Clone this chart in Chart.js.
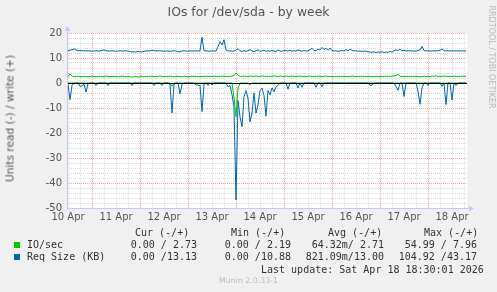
<!DOCTYPE html>
<html>
<head>
<meta charset="utf-8">
<script src="https://cdn.jsdelivr.net/npm/chart.js@4.4.1/dist/chart.umd.min.js"></script>
<style>
  html, body { margin: 0; padding: 0; background: #F0F0F0; }
  #wrap { position: relative; width: 497px; height: 292px; overflow: hidden; }
  canvas { position: absolute; left: 0; top: 0; }
  .t { position: absolute; white-space: pre; font-family: 'DejaVu Sans'; }
  .m { position: absolute; white-space: pre; font-family: 'DejaVu Sans Mono'; font-size: 10px; line-height: 12px; color: #333; }
  .r { text-align: right; width: 100px; }
  .sq { position: absolute; width: 6px; height: 6px; }
</style>
</head>
<body>
<div id="wrap">
  <canvas id="canvas" width="497" height="292"></canvas>

  <div class="t" style="left:0;top:4px;width:497px;text-align:center;font-size:12.4px;color:#555;">IOs for /dev/sda - by week</div>
  <div class="t" style="left:-90px;top:112px;width:200px;text-align:center;font-size:10.6px;line-height:13px;color:#555;transform:rotate(-90deg);">Units read (-) / write (+)</div>
  <div class="t" style="left:431px;top:52px;width:120px;text-align:center;font-size:8px;line-height:10px;color:#bbb;transform:rotate(90deg);">RRDTOOL / TOBI OETIKER</div>

  <div class="m" style="left:135px;top:227px;">Cur (-/+)</div>
  <div class="m" style="left:231px;top:227px;">Min (-/+)</div>
  <div class="m" style="left:328px;top:227px;">Avg (-/+)</div>
  <div class="m" style="left:424px;top:227px;">Max (-/+)</div>

  <div class="sq" style="left:14px;top:242px;background:#00CC00;"></div>
  <div class="m" style="left:27px;top:239px;">IO/sec</div>
  <div class="m r" style="left:97px;top:239px;">0.00 / 2.73</div>
  <div class="m r" style="left:191px;top:239px;">0.00 / 2.19</div>
  <div class="m r" style="left:284px;top:239px;">64.32m/ 2.71</div>
  <div class="m r" style="left:377px;top:239px;">54.99 / 7.96</div>

  <div class="sq" style="left:14px;top:254px;background:#0066B3;"></div>
  <div class="m" style="left:27px;top:251px;">Req Size (KB)</div>
  <div class="m r" style="left:97px;top:251px;">0.00 /13.13</div>
  <div class="m r" style="left:191px;top:251px;">0.00 /10.88</div>
  <div class="m r" style="left:284px;top:251px;">821.09m/13.00</div>
  <div class="m r" style="left:377px;top:251px;">104.92 /43.17</div>

  <div class="m" style="left:261px;top:264px;">Last update: Sat Apr 18 18:30:01 2026</div>
  <div class="t" style="left:0;top:276px;width:497px;text-align:center;font-size:7.8px;line-height:10px;color:#bbb;">Munin 2.0.33-1</div>
</div>

<script>
// hourly samples, first one at 10 Apr 12:00 (hour 12 counted from 10 Apr 00:00)
var firstHour = 12;
var dayLabels = ['10 Apr', '11 Apr', '12 Apr', '13 Apr', '14 Apr', '15 Apr', '16 Apr', '17 Apr', '18 Apr'];

// IO/sec
var ioRead = [
  0,0,0,0,0,0,0,0,0,0, 0,0,0,0,0,0,0,0,0,0, 0,0,0,0,0,0,0,0,0,0, 0,0,0,0,0,0,0,0,0,0,
  0,0,0,0,0,0,0,0,0,0, 0,0,-1.3,0,0,0,0,0,0,0, 0,0,0,0,0,0,0,0,0,0, 0,0,0,0,0,0,0,0,0,0,
  0,0,0,-6,-13.5,-2,0,0,0,0, 0,-0.7,0,0,0,0,0,0,0,0, 0,0,0,0,0,0,0,0,0,0, 0,0,0,0,0,0,0,0,0,0,
  0,0,0,0,0,0,0,0,0,0, 0,0,0,0,0,0,0,0,0,0, 0,0,0,0,0,0,0,0,0,0, 0,0,0,0,0,0,0,0,0,0,
  0,0,0,0,0,0,0,0,0,0, 0,0,0,0,0,0,0,0,0,0, 0,0,0,0,0,0,0,0,0,0, 0,0,0,0,0,0,0,0,0,0
];
var ioWrite = [
  2.5,3.6,2.8,2.6,2.5,2.7,2.6,2.5,2.7,2.6, 2.5,2.6,2.8,2.6,2.5,2.6,2.7,2.5,2.6,2.8,
  2.6,2.5,2.6,2.7,2.6,2.5,2.6,2.8,2.6,2.5, 2.6,2.5,2.4,2.5,2.6,2.4,2.5,2.6,2.5,2.7,
  2.6,2.8,2.6,2.5,2.7,2.6,2.9,2.6,2.5,2.7, 2.6,2.8,2.6,2.5,2.6,2.7,2.6,2.5,2.7,2.6,
  2.5,2.6,2.8,2.6,2.7,2.6,2.5,2.7,2.6,2.8, 2.6,2.7,2.6,2.8,2.6,2.7,2.6,2.8,2.7,2.6,
  2.7,2.6,2.8,3.0,4.0,3.1,2.7,2.6,2.8,2.7, 2.6,2.8,2.7,2.6,2.8,2.7,2.6,2.9,2.7,2.6,
  2.8,2.6,2.7,2.9,2.7,2.6,2.8,2.7,2.6,2.8, 2.7,2.6,2.8,2.7,2.6,2.7,2.8,2.6,2.7,2.6,
  2.7,2.8,2.6,2.7,2.6,2.8,2.7,2.6,2.7,2.8, 2.6,2.7,2.6,2.5,2.7,2.6,2.8,2.6,2.7,2.6,
  2.7,2.6,2.8,2.7,2.6,2.7,2.6,2.8,2.6,2.7, 2.6,2.7,2.5,2.6,2.7,2.6,2.5,2.7,2.6,2.8,
  2.6,2.7,2.8,2.8,3.0,3.5,2.8,2.6,2.7,2.6, 2.7,2.6,2.8,2.6,2.7,2.6,2.5,2.6,2.7,2.6,
  2.7,2.6,2.8,2.7,2.9,2.6,2.7,2.6,2.8,2.7, 2.6,2.7,2.6,2.8,2.6,2.7,2.6,2.8,2.7,2.7
];

// Req Size (KB)
var sizeRead = [
  -0.5,-6.7,-1,0,0,0,-1.3,-1.2,-0.5,-3.6, -0.3,0,0,0,-1,0,0,0,0,0,
  -1,0,0,0,0,0,0,0,0,0, 0,0,-1,0,0,0,0,0,0,0,
  0,0,0,-1,0,0,0,-1,0,0, 0,-0.5,-12,-0.5,0,0,-4.3,-0.5,0,0,
  0,0,0,0,-0.8,-0.8,-1,-11.4,-0.5,0, -1,0,-0.8,0,0,0,0,0,0,0,
  -1.5,-1,-4.7,-9.5,-46.8,-7,-13.5,-17.5,-5.5,-3, -6,-15.5,-12,-4,-12,-8.7,-3,-2,-5,-13.3,
  -3,-4.7,-2,-3.5,-1.5,-1,0,0,0,0, -2.5,0,0,0,0,-2,0,-1.7,0,0,
  0,0,0,0,-1.7,0,0,-1.5,0,0, 0,0,0,0,0,0,0,0,0,0,
  0,0,0,0,0,0,0,0,0,0, 0,-1,-0.8,0,0,0,0,0,0,0,
  0,0,0,0,-1.5,-2.9,0,0,-5.4,0, 0,0,0,0,0,-3.3,-8.5,-2,0,0,
  -1,0,0,0,0,0,0,-1.3,0,-8.6, 0,0,-6.8,0,-1,0,0,0,0,0
];
var sizeWrite = [
  12.9,13.1,13.3,13.7,13.2,13.0,12.9,13.0,12.8,12.9, 12.8,12.9,12.7,12.8,12.9,12.8,12.8,13.0,13.3,12.9,
  12.8,12.8,12.9,12.8,12.7,12.8,12.9,12.8,12.8,12.9, 12.7,12.6,12.4,12.5,12.4,12.6,12.5,12.4,12.7,12.8,
  12.9,12.8,13.1,12.9,12.8,12.9,12.8,12.9,12.7,12.8, 12.8,12.7,12.8,12.9,12.8,12.4,12.6,12.8,12.9,12.8,
  12.7,12.9,12.8,12.8,12.9,12.8,12.9,18.3,12.9,12.8, 12.8,12.7,12.9,12.8,12.8,14.5,16.5,15.2,17.3,13.2,
  12.8,12.9,12.8,12.8,13.2,13.7,12.9,12.6,13.0,12.7, 12.9,13.4,12.8,12.6,12.9,13.3,12.7,12.8,13.1,12.6,
  12.9,12.7,13.0,12.8,12.6,13.2,12.8,12.7,13.0,12.9, 12.8,13.1,12.7,12.9,12.8,13.2,12.9,12.7,13.0,12.8,
  12.9,13.3,13.9,13.0,12.9,13.6,13.2,14.2,13.4,13.9, 13.1,14.0,12.9,12.8,12.9,12.7,12.8,13.0,12.8,13.4,
  12.9,13.5,13.1,12.8,12.9,12.7,12.8,12.6,12.8,12.7, 12.5,12.4,12.3,12.5,12.2,12.4,12.3,12.5,12.2,12.4,
  12.3,12.6,12.4,12.9,13.2,13.0,13.5,12.9,13.1,12.8, 12.9,12.8,12.9,12.7,12.8,13.0,13.2,14.7,13.0,12.8,
  12.9,12.8,12.8,12.9,12.8,12.9,13.1,13.6,12.9,12.8, 12.9,12.8,12.9,12.8,12.9,12.8,12.9,12.8,12.9,12.7
];

function toPoints(values) {
  return values.map(function (v, i) { return { x: firstHour + i, y: v }; });
}

function line(values, colour) {
  return {
    data: toPoints(values),
    borderColor: colour,
    borderWidth: 1,
    pointRadius: 0,
    tension: 0,
    fill: false
  };
}

// white plot area on the grey page
var backdrop = {
  id: 'backdrop',
  beforeDraw: function (chart) {
    var c = chart.ctx, a = chart.chartArea;
    c.save();
    c.fillStyle = '#F0F0F0';
    c.fillRect(0, 0, chart.width, chart.height);
    c.fillStyle = '#FFFFFF';
    c.fillRect(a.left, a.top, a.right - a.left, a.bottom - a.top);
    c.restore();
  },
  afterDatasetsDraw: function (chart) {
    var c = chart.ctx, a = chart.chartArea;
    var y0 = Math.round(chart.scales.y.getPixelForValue(0)) + 0.5;
    var xl = Math.round(a.left) + 0.5, yb = Math.round(a.bottom) + 0.5;
    c.save();
    // zero line
    c.strokeStyle = '#000000';
    c.lineWidth = 1;
    c.beginPath();
    c.moveTo(a.left, y0);
    c.lineTo(a.right, y0);
    c.stroke();
    // axes with arrows
    c.strokeStyle = '#C8C8F0';
    c.fillStyle = '#C8C8F0';
    c.beginPath();
    c.moveTo(xl, yb);
    c.lineTo(xl, a.top - 3);
    c.moveTo(xl, yb);
    c.lineTo(a.right + 3, yb);
    c.stroke();
    c.beginPath();
    c.moveTo(xl - 3, a.top - 2);
    c.lineTo(xl + 3, a.top - 2);
    c.lineTo(xl, a.top - 7);
    c.closePath();
    c.fill();
    c.beginPath();
    c.moveTo(a.right + 2, yb - 3);
    c.lineTo(a.right + 2, yb + 3);
    c.lineTo(a.right + 7, yb);
    c.closePath();
    c.fill();
    c.restore();
  }
};

window.onload = function () {
  var ctx = document.getElementById('canvas').getContext('2d');
  window.myChart = new Chart(ctx, {
    type: 'line',
    data: {
      datasets: [
        line(sizeWrite, '#0066B3'),
        line(sizeRead, '#0066B3'),
        line(ioWrite, '#00CC00'),
        line(ioRead, '#00CC00')
      ]
    },
    plugins: [backdrop],
    options: {
      responsive: false,
      animation: false,
      events: [],
      layout: { padding: { left: 0, top: 33, right: 30, bottom: 70 } },
      plugins: { legend: { display: false }, tooltip: { enabled: false } },
      scales: {
        x: {
          type: 'linear',
          min: 11.5,
          max: 211.5,
          afterFit: function (s) { s.height = 14; },
          afterBuildTicks: function (s) {
            var t = [];
            for (var h = 12; h <= 210; h += 6) t.push({ value: h });
            s.ticks = t;
          },
          ticks: {
            autoSkip: false,
            maxRotation: 0,
            padding: 3,
            color: '#555',
            font: { family: 'DejaVu Sans', size: 10 },
            callback: function (v) {
              return v % 24 === 12 ? dayLabels[(v - 12) / 24] : '';
            }
          },
          grid: {
            drawTicks: false,
            lineWidth: 1,
            color: function (c) {
              return c.tick && c.tick.value % 24 === 0 ? '#F0A8A8' : '#DDDDDD';
            }
          },
          border: { display: false, dash: [1, 1] }
        },
        y: {
          min: -50,
          max: 20,
          afterFit: function (s) { s.width = 67; },
          ticks: {
            stepSize: 2,
            autoSkip: false,
            padding: 5,
            color: '#555',
            font: { family: 'DejaVu Sans', size: 10 },
            callback: function (v) { return v % 10 === 0 ? String(v) : ''; }
          },
          grid: {
            drawTicks: false,
            lineWidth: 1,
            color: function (c) {
              if (!c.tick) return '#DDDDDD';
              if (c.tick.value === 0) return 'rgba(0,0,0,0)';
              return c.tick.value % 10 === 0 ? '#F0A8A8' : '#DDDDDD';
            }
          },
          border: { display: false, dash: [1, 1] }
        }
      }
    }
  });
};
</script>
</body>
</html>
